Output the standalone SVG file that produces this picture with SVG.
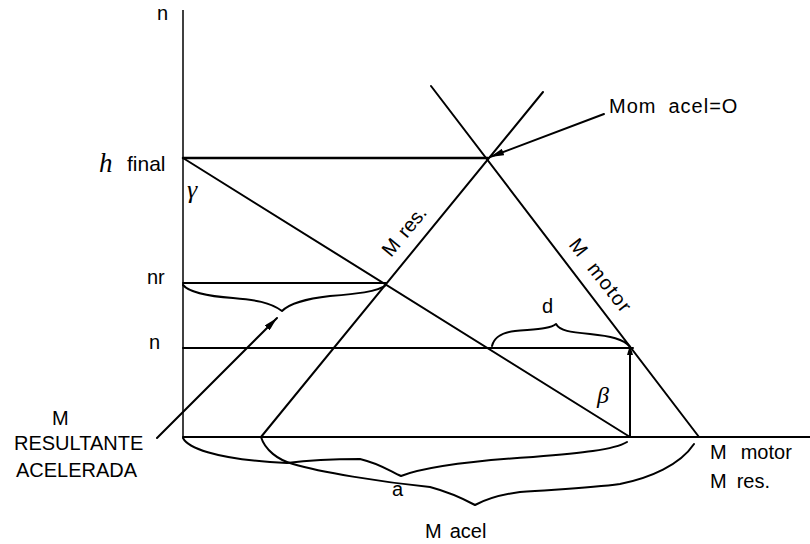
<svg xmlns="http://www.w3.org/2000/svg" width="810" height="544" viewBox="0 0 810 544">
<defs>
<marker id="ah" viewBox="0 0 14 7" refX="14" refY="3.5" markerWidth="14" markerHeight="7" markerUnits="userSpaceOnUse" orient="auto">
<path d="M0,0 L14,3.5 L0,7 z" fill="#000"/>
</marker>
</defs>
<style>
.ln{stroke:#000;stroke-width:2;fill:none;stroke-linecap:round}
.th{stroke:#000;stroke-width:1.5;fill:none}
.br{stroke:#000;stroke-width:2;fill:none;stroke-linejoin:round;stroke-linecap:round}
.t{font-family:"Liberation Sans",Arial,sans-serif;font-size:20px;fill:#000}
.u{font-family:"Liberation Sans",Arial,sans-serif;font-size:20px;fill:#000}
.g{font-family:"Liberation Serif","DejaVu Serif",serif;font-style:italic;fill:#000}
</style>
<rect width="810" height="544" fill="#fff"/>
<g id="connectors">
<line class="th" x1="183" y1="10" x2="183" y2="437"/>
<line class="ln" x1="183" y1="437" x2="810" y2="437"/>
<line class="ln" x1="183" y1="158" x2="488" y2="158" style="stroke-width:2.5"/>
<line class="ln" x1="183" y1="283" x2="386" y2="283"/>
<line class="ln" x1="183" y1="348" x2="633" y2="348"/>
<line class="ln" x1="630" y1="350" x2="630" y2="437"/>
<line class="ln" x1="183" y1="158" x2="630" y2="437"/>
<line class="ln" x1="431" y1="86" x2="699" y2="437"/>
<line class="ln" x1="543" y1="92" x2="261" y2="437"/>
<line class="ln" x1="604" y1="114" x2="490" y2="157" marker-end="url(#ah)"/>
<line class="ln" x1="157" y1="438" x2="277" y2="318" marker-end="url(#ah)"/>
<polygon points="630,345 627,355 633,355" fill="#000"/>
<path class="br" d="M183,285 C188,291 205,296 233,298 C255,300 270,302 282,311 C290,303 305,299 330,296 C355,294 378,292 386,285"/>
<path class="br" d="M492,346 C494,338 500,333 515,331 C535,329 550,329 556,324 C560,331 570,332 590,334 C610,336 624,339 630,347"/>
<path class="br" d="M183,438 C188,448 215,458 270,462 L287,463 C310,460 340,459 360,459 C378,463 390,471 401,476 C425,467 470,461 533,457 C580,453 614,450 627,442"/>
<path class="br" d="M261,437 C265,450 278,460 293,464 C320,472 380,482 430,487 C445,491 462,498 475,505 C490,497 505,494 520,492 C560,489 590,488 620,484 C650,478 680,465 694,444"/>
</g>
<g id="axis-labels">
<text class="t" x="157" y="20">n</text>
<text class="g" x="99" y="172" style="font-size:27px">h</text>
<text class="t" x="127" y="171" style="font-size:21px">final</text>
<text class="g" x="187" y="198" style="font-size:26px">γ</text>
<text class="t" x="147" y="284">nr</text>
<text class="t" x="149" y="349">n</text>
</g>
<g id="resultante-label">
<text class="u" x="52" y="425">M</text>
<text class="u" x="14" y="450">RESULTANTE</text>
<text class="u" x="16" y="477">ACELERADA</text>
</g>
<g id="mom-label">
<text class="t" x="609" y="113" letter-spacing="1">Mom<tspan dx="12">acel=O</tspan></text>
</g>
<g id="mres-line-label">
<text class="t" transform="translate(391,258) rotate(-50.5)">M<tspan dx="8">res.</tspan></text>
</g>
<g id="mmotor-line-label">
<text class="t" transform="translate(568,245) rotate(52)" letter-spacing="1.5">M<tspan dx="12">motor</tspan></text>
</g>
<g id="d-label">
<text class="t" x="542" y="313">d</text>
</g>
<g id="beta-label">
<text class="g" x="597" y="403" style="font-size:24px">β</text>
</g>
<g id="a-label">
<text class="t" x="392" y="496">a</text>
</g>
<g id="macel-label">
<text class="t" x="425" y="538">M<tspan dx="8">acel</tspan></text>
</g>
<g id="right-labels">
<text class="t" x="710" y="459">M<tspan dx="14">motor</tspan></text>
<text class="t" x="710" y="488">M<tspan dx="10">res.</tspan></text>
</g>
</svg>
